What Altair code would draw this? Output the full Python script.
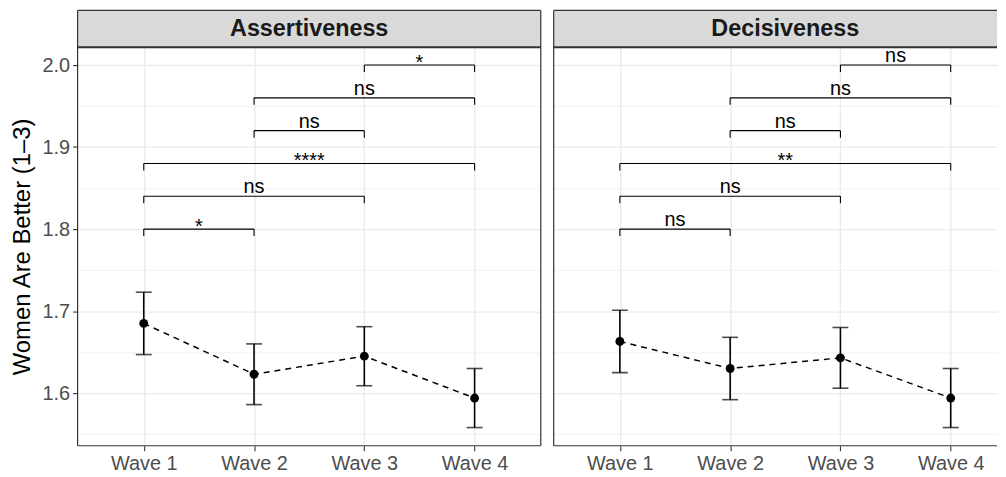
import altair as alt
import pandas as pd

# ---------------- data ----------------
waves = ["Wave 1", "Wave 2", "Wave 3", "Wave 4"]
wave_idx = [1, 2, 3, 4]
panels = ["Assertiveness", "Decisiveness"]

assert_mean = [1.685, 1.623, 1.645, 1.594]
assert_lo = [1.647, 1.586, 1.609, 1.558]
assert_hi = [1.723, 1.660, 1.681, 1.630]

decis_mean = [1.663, 1.630, 1.643, 1.594]
decis_lo = [1.625, 1.592, 1.606, 1.558]
decis_hi = [1.701, 1.668, 1.680, 1.630]

pair_start = [1, 1, 1, 2, 2, 3]
pair_end = [2, 3, 4, 3, 4, 4]
bracket_y = [1.80, 1.84, 1.88, 1.92, 1.96, 2.00]
assert_sig = ["*", "ns", "****", "ns", "ns", "*"]
decis_sig = ["ns", "ns", "**", "ns", "ns", "ns"]

y_grid_vals = [1.55, 1.6, 1.65, 1.7, 1.75, 1.8, 1.85, 1.9, 1.95, 2.0]
y_domain = [1.5358, 2.0218]

# ---------------- layout ----------------
W_L = 466            # full panel width
W_R = 446            # right panel, cut at the window edge like the reference
H = 401
STRIP = 37
FONT = "Liberation Sans"
BORDER = "#333333"
x_domain_L = [0.4, 4.6]
x_domain_R = [0.4, 0.4 + W_R * 4.2 / W_L]

major = "abs(datum.value*10 - round(datum.value*10)) < 0.001"
wave_list_js = "[" + ",".join("'%s'" % w for w in waves) + "]"


def panel(name, mean, lo, hi, sig, left):
    W = W_L if left else W_R
    pts = pd.DataFrame({"wave": wave_idx, "mean": mean, "lo": lo, "hi": hi})
    br = pd.DataFrame({"a": pair_start, "b": pair_end, "y": bracket_y, "label": sig})
    strip_df = pd.DataFrame({"panel": [name]})

    xs = alt.Scale(domain=x_domain_L if left else x_domain_R, nice=False, zero=False)
    ys = alt.Scale(domain=y_domain, nice=False, zero=False)

    xaxis = alt.Axis(
        values=wave_idx,
        labelExpr=wave_list_js + "[datum.value - 1]",
        title=None,
        grid=True,
        gridColor="#ebebeb",
        gridWidth=1.4,
        domain=False,
        tickSize=5,
        tickColor=BORDER,
        tickWidth=1.1,
        labelFontSize=20,
        labelColor="#4d4d4d",
        labelPadding=3,
        labelFont=FONT,
    )
    if left:
        yaxis = alt.Axis(
            values=y_grid_vals,
            labelExpr=major + " ? format(datum.value, '.1f') : ''",
            title="Women Are Better (1–3)",
            titleFontSize=24,
            titleFontWeight="normal",
            titleColor="black",
            titleFont=FONT,
            titlePadding=8,
            labelFontSize=20,
            labelColor="#4d4d4d",
            labelFont=FONT,
            labelPadding=3,
            tickSize=5,
            tickColor=BORDER,
            tickWidth=1.1,
            tickOpacity={"condition": {"test": major, "value": 1}, "value": 0},
            gridColor="#ebebeb",
            gridWidth={"condition": {"test": major, "value": 1.4}, "value": 0.7},
            domain=False,
        )
    else:
        yaxis = alt.Axis(
            values=y_grid_vals,
            labels=False,
            ticks=False,
            title=None,
            gridColor="#ebebeb",
            gridWidth={"condition": {"test": major, "value": 1.4}, "value": 0.7},
            domain=False,
        )

    def X(f):
        return alt.X(f, type="quantitative", scale=xs, axis=xaxis)

    def Y(f):
        return alt.Y(f, type="quantitative", scale=ys, axis=yaxis)

    base = alt.Chart(pts)
    line = base.mark_line(color="black", strokeWidth=1.5, strokeDash=[6, 5]).encode(
        x=X("wave"), y=Y("mean")
    )
    err = base.mark_rule(color="black", strokeWidth=1.6).encode(
        x=X("wave"), y=Y("lo"), y2="hi:Q"
    )
    cap_lo = base.mark_tick(color="black", orient="horizontal", size=16, thickness=1.6).encode(
        x=X("wave"), y=Y("lo")
    )
    cap_hi = base.mark_tick(color="black", orient="horizontal", size=16, thickness=1.6).encode(
        x=X("wave"), y=Y("hi")
    )
    dots = base.mark_circle(color="black", size=80, opacity=1).encode(
        x=X("wave"), y=Y("mean")
    )

    bb = alt.Chart(br)
    hline = bb.mark_rule(color="black", strokeWidth=1.1).encode(
        x=X("a"), x2="b:Q", y=Y("y")
    )
    tip_l = bb.transform_calculate(yt="datum.y - 0.0085").mark_rule(
        color="black", strokeWidth=1.1
    ).encode(x=X("a"), y=Y("y"), y2="yt:Q")
    tip_r = bb.transform_calculate(yt="datum.y - 0.0085").mark_rule(
        color="black", strokeWidth=1.1
    ).encode(x=X("b"), y=Y("y"), y2="yt:Q")
    ns_txt = bb.transform_filter("datum.label == 'ns'").transform_calculate(
        xm="(datum.a + datum.b) / 2"
    ).mark_text(
        font=FONT, fontSize=20, color="black", baseline="alphabetic", dy=-3
    ).encode(x=X("xm"), y=Y("y"), text="label:N")
    star_txt = bb.transform_filter("datum.label != 'ns'").transform_calculate(
        xm="(datum.a + datum.b) / 2"
    ).mark_text(
        font=FONT, fontSize=20, color="black", baseline="alphabetic", dy=4
    ).encode(x=X("xm"), y=Y("y"), text="label:N")

    # strip (facet header) and panel borders
    sd = alt.Chart(strip_df)
    strip_fill = sd.mark_rect(fill="#d9d9d9", strokeWidth=0).encode(
        x=alt.value(0), x2=alt.value(W), y=alt.value(-STRIP), y2=alt.value(0)
    )
    strip_text = sd.mark_text(
        font=FONT, fontSize=23.5, fontWeight="bold", color="#1a1a1a", baseline="middle"
    ).encode(x=alt.value(W_L / 2), y=alt.value(-STRIP / 2 + 0.5), text="panel:N")

    def seg(x, x2, y, y2, w=1.2):
        return sd.mark_rule(color=BORDER, strokeWidth=w).encode(
            x=alt.value(x), x2=alt.value(x2), y=alt.value(y), y2=alt.value(y2)
        )

    borders = [
        seg(0, 0, -STRIP, H),          # left side
        seg(0, W, -STRIP, -STRIP),     # strip top
        seg(0, W, 0, 0, 2.0),          # strip bottom / panel top
        seg(0, W, H, H),               # panel bottom
    ]
    if left:
        borders.append(seg(W, W, -STRIP, H))  # right side

    return alt.layer(
        strip_fill,
        line, err, cap_lo, cap_hi, dots,
        hline, tip_l, tip_r, ns_txt, star_txt,
        strip_text, *borders,
    ).properties(width=W, height=H)


left_panel = panel(panels[0], assert_mean, assert_lo, assert_hi, assert_sig, True)
right_panel = panel(panels[1], decis_mean, decis_lo, decis_hi, decis_sig, False)

chart = alt.hconcat(left_panel, right_panel, spacing=11).properties(
    padding={"left": 2, "top": 0, "right": 0, "bottom": 0}, background="white"
).configure_view(stroke=None)

chart.save("out.html", embed_options={"renderer": "svg", "actions": False})
